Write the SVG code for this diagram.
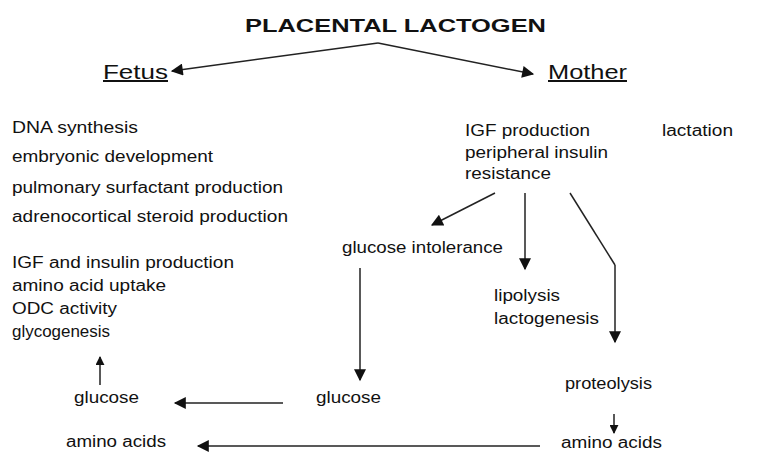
<svg xmlns="http://www.w3.org/2000/svg" width="769" height="466" viewBox="0 0 769 466">
<style>
text{font-family:"Liberation Sans",Arial,sans-serif;font-size:16px;fill:#111}
.h{font-size:20px}
.t{font-size:19px;font-weight:bold}
line{stroke:#222;stroke-width:1.5}
</style>
<defs><marker id="a" viewBox="0 0 10 10" refX="9" refY="5" markerWidth="9" markerHeight="9" markerUnits="userSpaceOnUse" orient="auto"><path d="M0,0 L10,5 L0,10 Z" fill="#111"/></marker>
<marker id="b" viewBox="0 0 10 10" refX="9" refY="5" markerWidth="14" markerHeight="12" markerUnits="userSpaceOnUse" orient="auto"><path d="M0,0 L10,5 L0,10 Z" fill="#111"/></marker></defs>
<rect width="769" height="466" fill="#fff"/>
<g id="title"><text class="t" x="245" y="32" textLength="301" lengthAdjust="spacingAndGlyphs">PLACENTAL LACTOGEN</text></g>
<g id="fetus"><text class="h" x="103" y="79" textLength="65" lengthAdjust="spacingAndGlyphs" text-decoration="underline">Fetus</text></g>
<g id="mother"><text class="h" x="548" y="79" textLength="79" lengthAdjust="spacingAndGlyphs" text-decoration="underline">Mother</text></g>
<g id="fetal-effects" style="lengthAdjust:spacingAndGlyphs">
<text x="12" y="133" textLength="126" lengthAdjust="spacingAndGlyphs">DNA synthesis</text>
<text x="12" y="162" textLength="201" lengthAdjust="spacingAndGlyphs">embryonic development</text>
<text x="12" y="193" textLength="271" lengthAdjust="spacingAndGlyphs">pulmonary surfactant production</text>
<text x="12" y="222" textLength="276" lengthAdjust="spacingAndGlyphs">adrenocortical steroid production</text></g>
<g id="fetal-metab">
<text x="12" y="268" textLength="222" lengthAdjust="spacingAndGlyphs">IGF and insulin production</text>
<text x="12" y="291" textLength="154" lengthAdjust="spacingAndGlyphs">amino acid uptake</text>
<text x="12" y="314" textLength="105" lengthAdjust="spacingAndGlyphs">ODC activity</text>
<text x="12" y="337" textLength="98" lengthAdjust="spacingAndGlyphs">glycogenesis</text></g>
<g id="f-glucose"><text x="74" y="403" textLength="65" lengthAdjust="spacingAndGlyphs">glucose</text></g>
<g id="f-aa"><text x="66" y="447" textLength="100" lengthAdjust="spacingAndGlyphs">amino acids</text></g>
<g id="m-igf">
<text x="465" y="136" textLength="125" lengthAdjust="spacingAndGlyphs">IGF production</text>
<text x="465" y="158" textLength="143" lengthAdjust="spacingAndGlyphs">peripheral insulin</text>
<text x="465" y="179" textLength="86" lengthAdjust="spacingAndGlyphs">resistance</text></g>
<g id="lactation"><text x="662" y="136" textLength="71" lengthAdjust="spacingAndGlyphs">lactation</text></g>
<g id="gi"><text x="342" y="253" textLength="161" lengthAdjust="spacingAndGlyphs">glucose intolerance</text></g>
<g id="lipo"><text x="494" y="301" textLength="66" lengthAdjust="spacingAndGlyphs">lipolysis</text><text x="494" y="324" textLength="105" lengthAdjust="spacingAndGlyphs">lactogenesis</text></g>
<g id="m-glucose"><text x="316" y="403" textLength="65" lengthAdjust="spacingAndGlyphs">glucose</text></g>
<g id="proteo"><text x="565" y="389" textLength="87" lengthAdjust="spacingAndGlyphs">proteolysis</text></g>
<g id="m-aa"><text x="561" y="448" textLength="101" lengthAdjust="spacingAndGlyphs">amino acids</text></g>
<g id="connectors">
<line x1="378" y1="43" x2="172" y2="71" marker-end="url(#b)"/>
<line x1="378" y1="43" x2="533" y2="74" marker-end="url(#b)"/>
<line x1="100" y1="385" x2="100" y2="357" marker-end="url(#a)"/>
<line x1="495" y1="193" x2="432" y2="225" marker-end="url(#b)"/>
<line x1="525" y1="193" x2="525" y2="269" marker-end="url(#b)"/>
<line x1="570" y1="193" x2="615" y2="265"/>
<line x1="615" y1="265" x2="615" y2="342" marker-end="url(#b)"/>
<line x1="360" y1="268" x2="360" y2="380" marker-end="url(#b)"/>
<line x1="283" y1="403" x2="175" y2="403" marker-end="url(#b)"/>
<line x1="614" y1="414" x2="614" y2="433" marker-end="url(#a)"/>
<line x1="540" y1="446" x2="198" y2="446" marker-end="url(#b)"/>
</g>
</svg>
